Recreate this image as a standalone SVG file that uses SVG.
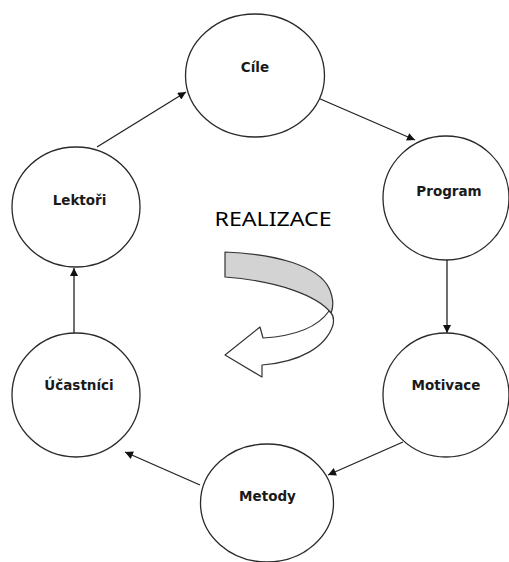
<svg xmlns="http://www.w3.org/2000/svg" width="509" height="562" viewBox="0 0 509 562">
<style>
.node{fill:#fff;stroke:#2a2a2a;stroke-width:1.3}
.lbl{font-family:"DejaVu Sans",Verdana,sans-serif;font-weight:bold;font-size:13.5px;fill:#1a1a1a;text-anchor:middle}
.con{stroke:#222;stroke-width:1.3;fill:none;marker-end:url(#ah)}
</style>
<defs>
<marker id="ah" viewBox="0 0 10 10" refX="10" refY="5" markerWidth="10" markerHeight="8" markerUnits="userSpaceOnUse" orient="auto">
<path d="M0,0 L10,5 L0,10 Z" fill="#111"/>
</marker>
</defs>
<rect width="509" height="562" fill="#fff"/>
<g id="connectors">
<line class="con" x1="97" y1="147" x2="186" y2="92"/>
<line class="con" x1="318" y1="98" x2="415" y2="140"/>
<line class="con" x1="447" y1="260" x2="447" y2="333"/>
<line class="con" x1="403" y1="442" x2="328" y2="475"/>
<line class="con" x1="200" y1="485" x2="125" y2="452"/>
<line class="con" x1="74" y1="333" x2="74" y2="268"/>
</g>
<g id="cile"><ellipse class="node" cx="255" cy="75.5" rx="69.5" ry="61.5"/><text class="lbl" x="255" y="72">Cíle</text></g>
<g id="program"><ellipse class="node" cx="446" cy="198" rx="63" ry="62"/><text class="lbl" x="449" y="196">Program</text></g>
<g id="motivace"><ellipse class="node" cx="446" cy="395" rx="63" ry="62"/><text class="lbl" x="446" y="390">Motivace</text></g>
<g id="metody"><ellipse class="node" cx="267" cy="503" rx="66.5" ry="59"/><text class="lbl" x="267.5" y="501">Metody</text></g>
<g id="ucastnici"><ellipse class="node" cx="76" cy="395" rx="64" ry="62"/><text class="lbl" x="79" y="390">Účastníci</text></g>
<g id="lektori"><ellipse class="node" cx="76" cy="207" rx="64" ry="60"/><text class="lbl" x="79.5" y="205">Lektoři</text></g>
<g id="realizace">
<text x="273" y="226" font-family="'Noto Sans','Open Sans','Liberation Sans',sans-serif" font-size="20" fill="#000" text-anchor="middle" textLength="117" lengthAdjust="spacingAndGlyphs">REALIZACE</text>
<path d="M225,252 C277,254 318,266 329,288 C333,297 334,306 331,313 C318,296 278,281 225,277 Z" fill="#d3d3d3" stroke="#333" stroke-width="1.2" stroke-linejoin="round"/>
<path d="M329,311 C318,327 295,336 263,338 L260,327 L225,355 L262,377 L262,365 C300,362 326,347 333,325 C334,320 333,315 331,313 Z" fill="#fff" stroke="#333" stroke-width="1.2" stroke-linejoin="round"/>
</g>
</svg>
